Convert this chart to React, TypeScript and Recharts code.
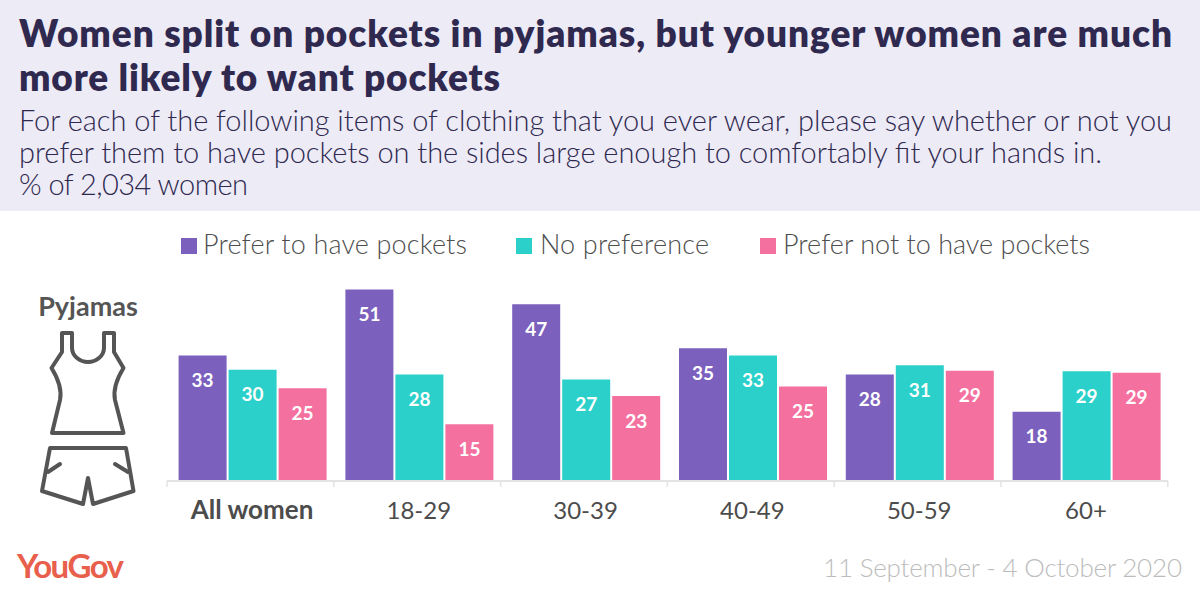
import { Bar, BarChart, LabelList, Legend, XAxis, YAxis } from "recharts";

const groups = ["All women", "18-29", "30-39", "40-49", "50-59", "60+"];
const preferPockets = [33.4, 50.9, 47.0, 35.3, 28.3, 18.4];
const noPreference = [29.6, 28.3, 27.0, 33.4, 30.8, 29.2];
const preferNot = [24.7, 15.1, 22.6, 25.1, 29.3, 28.8];

const seriesNames = ["Prefer to have pockets", "No preference", "Prefer not to have pockets"];
const seriesColors = ["#7b60bd", "#2ad0c9", "#f4709f"];

const data = groups.map((group, i) => ({
  group,
  prefer: preferPockets[i],
  none: noPreference[i],
  not: preferNot[i],
}));

const FONT = "Lato, 'Open Sans', sans-serif";
const AXIS_COLOR = "#e3e3e3";

function GroupTick({ x, y, payload, index }: any) {
  const band = 166.8;
  const left = x - 86;
  // tick y comes in 8px below the axis (tick size + margin)
  const axisY = y - 8;
  return (
    <g>
      <line x1={left} x2={left + band} y1={axisY} y2={axisY} stroke={AXIS_COLOR} strokeWidth={2} />
      <line x1={left} x2={left} y1={axisY} y2={axisY + 6} stroke={AXIS_COLOR} strokeWidth={1.5} />
      {index === groups.length - 1 && (
        <line x1={left + band} x2={left + band} y1={axisY} y2={axisY + 6} stroke={AXIS_COLOR} strokeWidth={1.5} />
      )}
      <text
        x={x - 1}
        y={axisY + 38}
        textAnchor="middle"
        fontFamily={FONT}
        fontSize={index === 0 ? 26 : 24}
        fontWeight={index === 0 ? 700 : 400}
        fill="#4c4c4c"
      >
        {payload.value}
      </text>
    </g>
  );
}

const legendSpots = [
  { square: 181, label: 203, width: 264 },
  { square: 516, label: 540, width: 169 },
  { square: 760, label: 783, width: 307 },
];

function PocketLegend() {
  return (
    <svg width={1200} height={50} style={{ display: "block", overflow: "visible" }}>
      {seriesNames.map((name, i) => (
        <g key={name}>
          <rect x={legendSpots[i].square} y={7} width={16} height={16} fill={seriesColors[i]} />
          <text
            x={legendSpots[i].label}
            y={23}
            fontFamily={FONT}
            fontSize={27}
            fontWeight={300}
            fill="#4f4f4f"
            textLength={legendSpots[i].width}
            lengthAdjust="spacing"
          >
            {name}
          </text>
        </g>
      ))}
    </svg>
  );
}

function Decorations() {
  return (
    <svg width={1200} height={594} style={{ position: "absolute", left: 0, top: 0 }}>
      <rect x={0} y={0} width={1200} height={211} fill="#edebf6" />
      <g fontFamily={FONT} fontWeight={800} fontSize={37} fill="#2f2950">
        <text x={19} y={47} textLength={1153} lengthAdjust="spacing">
          Women split on pockets in pyjamas, but younger women are much
        </text>
        <text x={19} y={91} textLength={481} lengthAdjust="spacing">
          more likely to want pockets
        </text>
      </g>
      <g fontFamily={FONT} fontWeight={300} fontSize={29} fill="#2f2950">
        <text x={19} y={131} textLength={1153} lengthAdjust="spacing">
          For each of the following items of clothing that you ever wear, please say whether or not you
        </text>
        <text x={19} y={163} textLength={1083} lengthAdjust="spacing">
          prefer them to have pockets on the sides large enough to comfortably fit your hands in.
        </text>
        <text x={19} y={195} textLength={229} lengthAdjust="spacing">
          % of 2,034 women
        </text>
      </g>

      <text x={88} y={316} textAnchor="middle" fontFamily={FONT} fontWeight={700} fontSize={27} fill="#555555">
        Pyjamas
      </text>
      <g fill="none" stroke="#555555" strokeWidth={4} strokeLinejoin="round" strokeLinecap="round">
        <path d="M62 333 H72 V348 C72 356 80 362 88 362 C96 362 104 356 104 348 V333 H114 V352 L123.5 368 C116 380 113 390 115 400 L123.5 433 H52 L60 400 C62 390 59 380 51.5 368 L62 352 Z" />
        <path d="M50 448 H126 L133.5 491 L93 504 L88 478 L83 504 L42 491 Z" />
        <path d="M60 464 L48 472 M115 464 L128 472" />
      </g>

      <text x={17} y={578} fontFamily={FONT} fontWeight={700} fontSize={33} fill="#e8604c" textLength={107} lengthAdjust="spacing">
        YouGov
      </text>
      <text x={823} y={577} fontFamily={FONT} fontWeight={300} fontSize={26} fill="#bcbcbc" textLength={359} lengthAdjust="spacing">
        11 September - 4 October 2020
      </text>
    </svg>
  );
}

const seriesKeys = ["prefer", "none", "not"];

export default function App() {
  return (
    <div style={{ position: "absolute", left: 0, top: 0, width: 1200, height: 594, background: "#fff", overflow: "hidden" }}>
      <Decorations />
      <div style={{ position: "absolute", left: 0, top: 0 }}>
        <BarChart
          width={1200}
          height={594}
          data={data}
          margin={{ top: 255.4, right: 29.6, bottom: 83, left: 169.6 }}
          barSize={48}
          barGap={2}
        >
          <XAxis
            dataKey="group"
            height={30}
            axisLine={false}
            tickLine={false}
            interval={0}
            tick={GroupTick}
          />
          <YAxis hide domain={[0, 60]} />
          <Legend
            verticalAlign="middle"
            content={PocketLegend}
            wrapperStyle={{ position: "absolute", left: 0, top: 231, width: 1200 }}
          />
          {seriesKeys.map((key, i) => (
            <Bar key={key} dataKey={key} name={seriesNames[i]} fill={seriesColors[i]} isAnimationActive={false}>
              <LabelList
                dataKey={key}
                position="insideTop"
                offset={18}
                formatter={(v: any) => Math.round(v)}
                fill="#ffffff"
                fontFamily={FONT}
                fontWeight={700}
                fontSize={19}
              />
            </Bar>
          ))}
        </BarChart>
      </div>
    </div>
  );
}
